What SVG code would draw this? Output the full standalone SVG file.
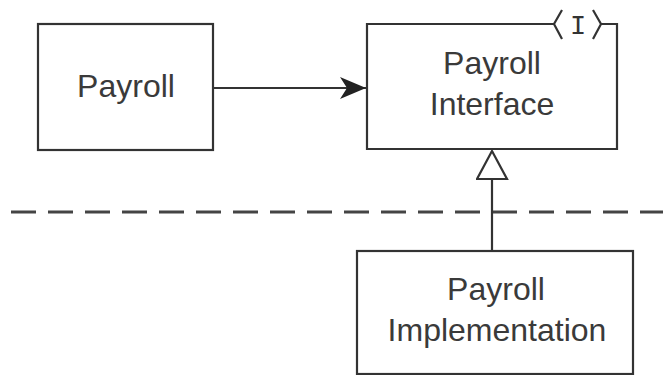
<svg xmlns="http://www.w3.org/2000/svg" width="663" height="375" viewBox="0 0 663 375">
<style>
.box{fill:#fff;stroke:#333;stroke-width:2.2}
.lbl{font-family:"Liberation Sans",Arial,sans-serif;font-size:32px;fill:#3a3a3a;text-anchor:middle}
.ln{fill:none;stroke:#333;stroke-width:2.2}
</style>
<defs>
<marker id="arrow" markerUnits="userSpaceOnUse" markerWidth="30" markerHeight="30" refX="26" refY="11" orient="auto">
<path d="M26,11 L0,0 L7,11 L0,22 Z" fill="#222"/>
</marker>
<marker id="tri" markerUnits="userSpaceOnUse" markerWidth="40" markerHeight="40" refX="30" refY="16" orient="auto">
<path d="M30,16 L2,1 L2,31 Z" fill="#fff" stroke="#333" stroke-width="2.2"/>
</marker>
</defs>
<rect width="663" height="375" fill="#fff"/>
<line x1="11" y1="212" x2="663" y2="212" stroke="#444" stroke-width="3" stroke-dasharray="25 12"/>
<g id="payroll">
<rect class="box" x="38" y="24" width="175" height="126"/>
<text class="lbl" x="126" y="97">Payroll</text>
</g>
<g id="payroll-interface">
<path class="box" d="M554,24 L367,24 L367,149 L617,149 L617,24 L601,24"/>
<path class="ln" d="M562,10 L554,24 L562,39 M593,10 L601,24 L593,39" stroke-width="3"/>
<text x="578" y="34" font-family="Liberation Mono,monospace" font-size="27" fill="#333" text-anchor="middle">I</text>
<text class="lbl" x="492" y="74">Payroll</text>
<text class="lbl" x="492" y="115">Interface</text>
</g>
<g id="payroll-implementation">
<rect class="box" x="357" y="251" width="276" height="123"/>
<text class="lbl" x="496" y="300">Payroll</text>
<text class="lbl" x="497" y="341">Implementation</text>
</g>
<g id="connectors">
<line class="ln" x1="213" y1="88" x2="366" y2="88" marker-end="url(#arrow)"/>
<line class="ln" x1="492" y1="251" x2="492" y2="151" marker-end="url(#tri)"/>
</g>
</svg>
